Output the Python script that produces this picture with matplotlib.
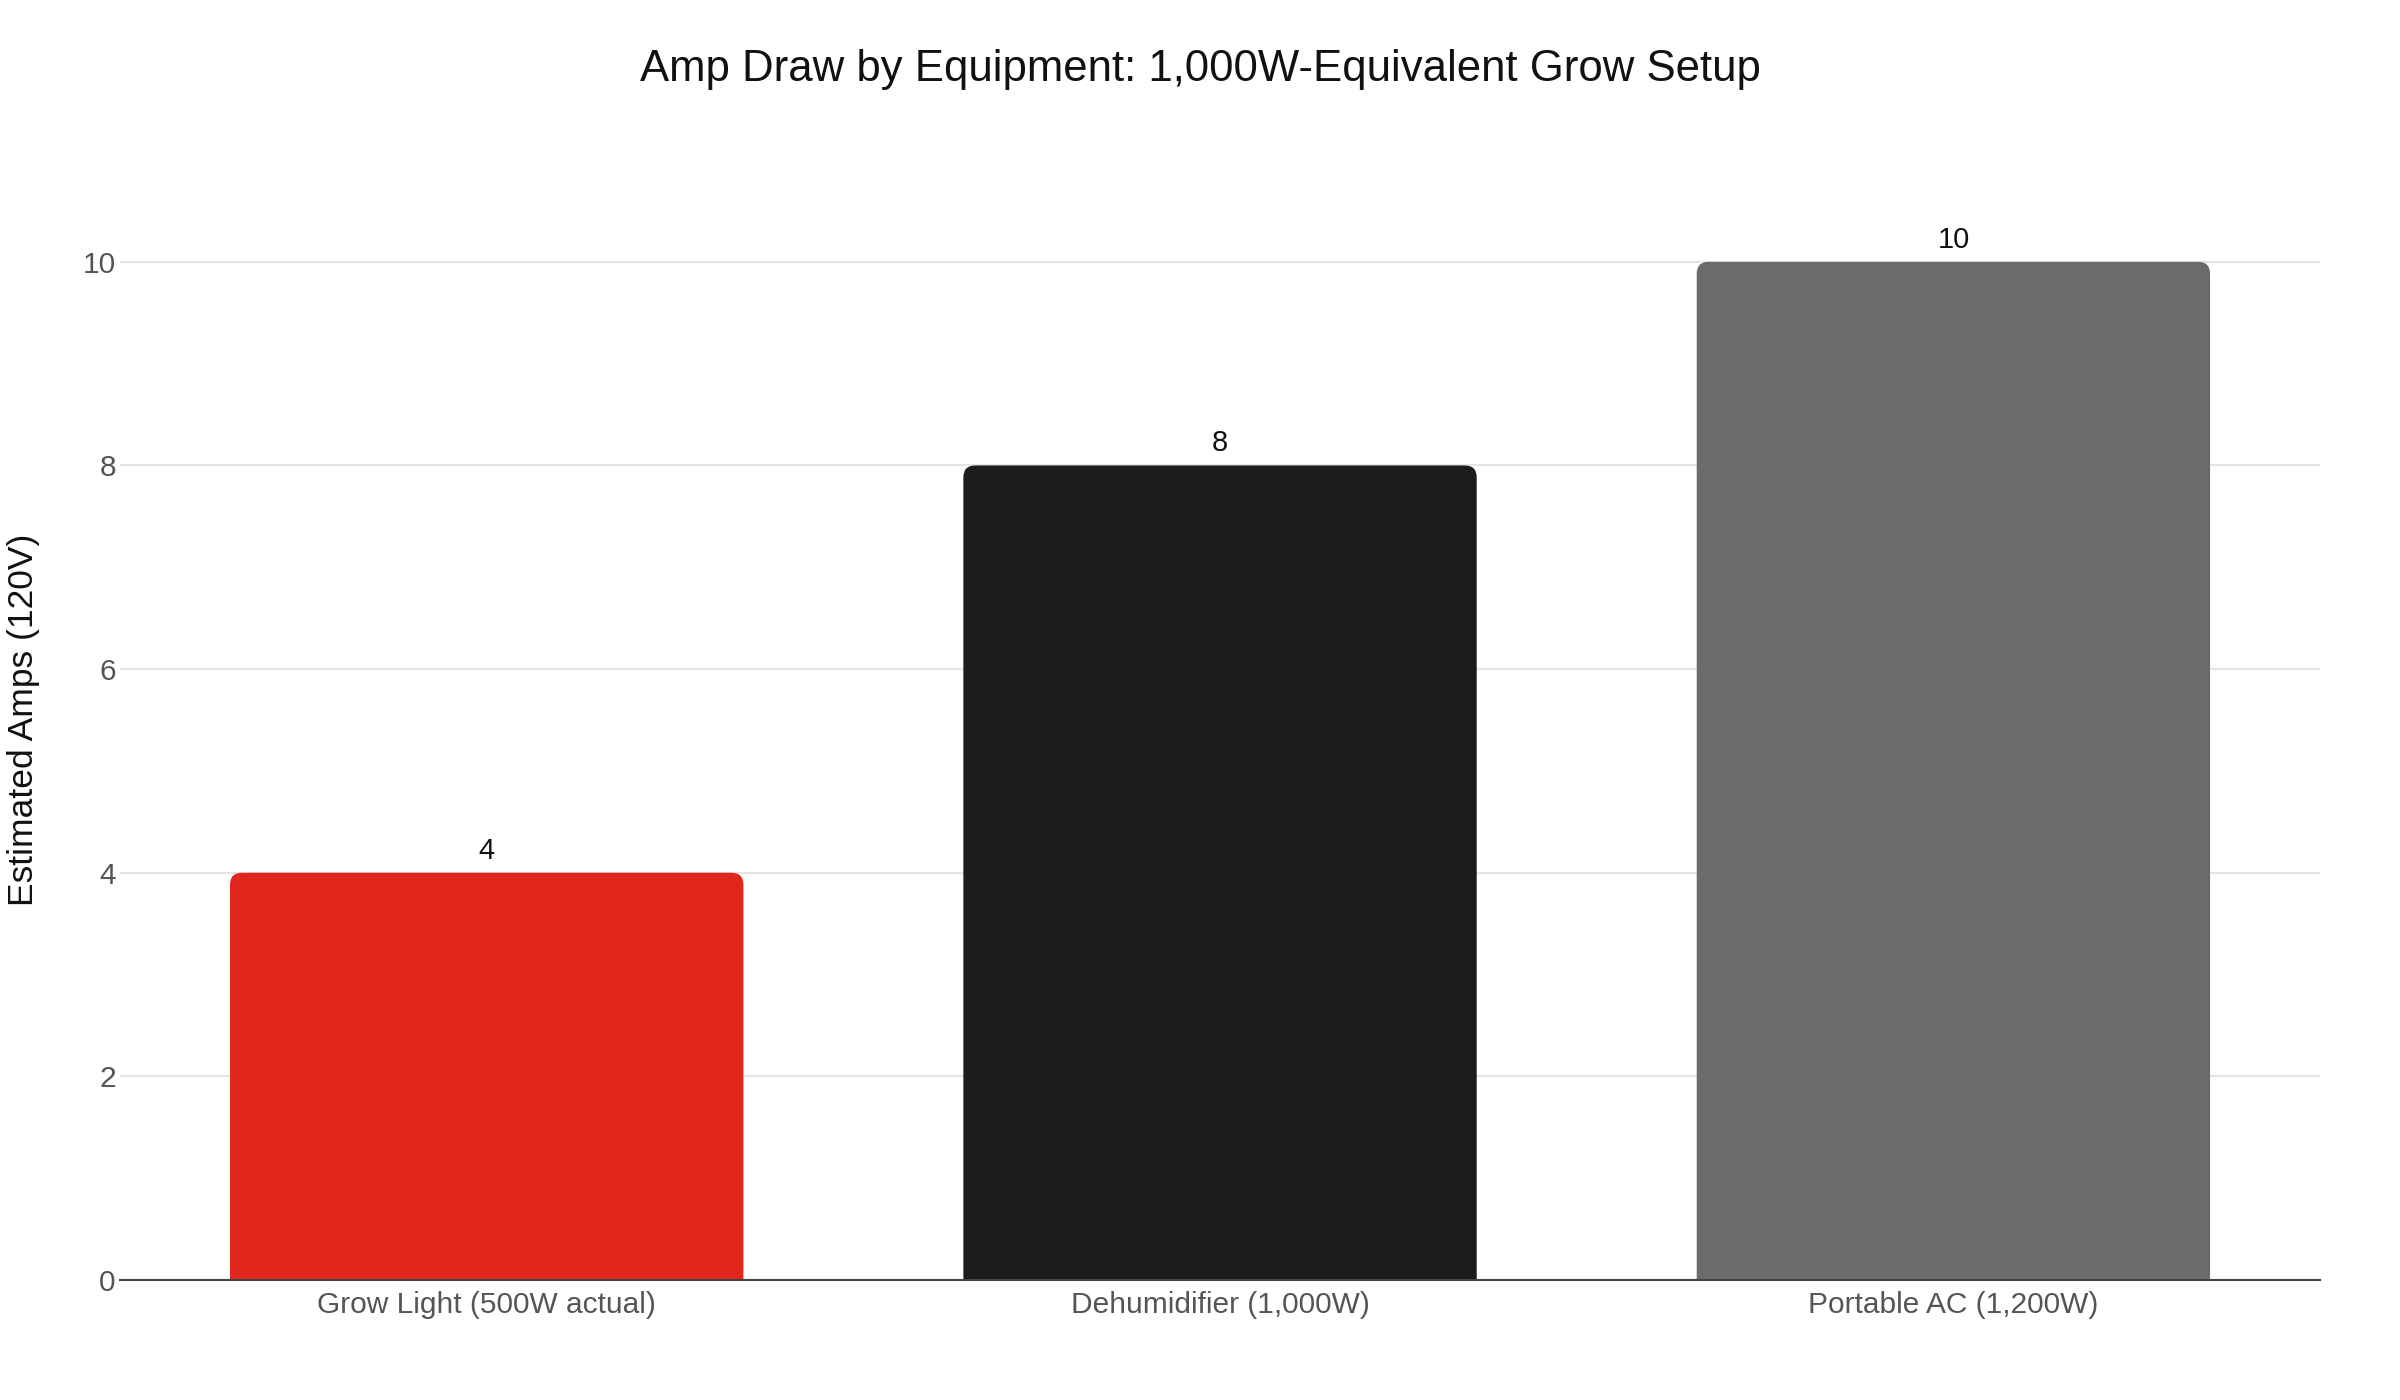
import numpy as np
import matplotlib
matplotlib.use("Agg")
import matplotlib.pyplot as plt
from matplotlib.patches import FancyBboxPatch

plt.rcParams['font.family'] = ['Liberation Sans', 'DejaVu Sans']

# datos
equipos = ["Grow Light (500W actual)", "Dehumidifier (1,000W)", "Portable AC (1,200W)"]
amperios = [4, 8, 10]
colores = ["#E0261D", "#1C1C1C", "#6B6B6B"]

fig = plt.figure(figsize=(24, 14), dpi=100)
ax = fig.add_axes([0.05, 0.0857, 0.9167, 0.8])

x = np.arange(len(equipos))
barras = ax.bar(x, amperios, width=0.7, color=colores, zorder=2)

ax.set_xlim(-0.5, len(equipos) - 0.5)
ax.set_ylim(0, 11)

# esquinas redondeadas arriba
fig.canvas.draw()
bb = ax.get_window_extent()
px_x = bb.width / (ax.get_xlim()[1] - ax.get_xlim()[0])
px_y = bb.height / (ax.get_ylim()[1] - ax.get_ylim()[0])
aspecto = px_x / px_y
radio = 12 / px_x
for b, c in zip(barras, colores):
    bx, by, bw, bh = b.get_x(), b.get_y(), b.get_width(), b.get_height()
    b.set_visible(False)
    p = FancyBboxPatch((bx, by - 0.5), bw, bh + 0.5,
                       boxstyle=f"round,pad=0,rounding_size={radio}",
                       mutation_aspect=aspecto, facecolor=c, edgecolor='none',
                       zorder=2, clip_on=True)
    ax.add_patch(p)
    ax.text(bx + bw / 2, bh + 0.08, f"{bh:g}", ha='center', va='bottom',
            fontsize=21, color='#111111')

ax.set_yticks([0, 2, 4, 6, 8, 10])
ax.set_xticks(x)
ax.set_xticklabels(equipos)
ax.tick_params(axis='both', length=0, labelsize=21.5, labelcolor='#555555')
ax.tick_params(axis='x', pad=8)
ax.tick_params(axis='y', pad=3)
ax.grid(axis='y', color='#E5E5E5', linewidth=1.5, zorder=0)
ax.set_axisbelow(True)

for s in ['top', 'right', 'left']:
    ax.spines[s].set_visible(False)
ax.spines['bottom'].set_color('#444444')
ax.spines['bottom'].set_linewidth(1.5)
ax.spines['bottom'].set_zorder(3)

fig.text(0.0100, 0.0857 + 0.4, "Estimated Amps (120V)", rotation=90,
         ha='center', va='center', fontsize=25.5, color='#111111')
fig.text(0.5, 1 - 69 / 1400, "Amp Draw by Equipment: 1,000W-Equivalent Grow Setup",
         ha='center', va='center', fontsize=31.5, color='#111111')

fig.savefig("out.png", dpi=100, facecolor='white')
